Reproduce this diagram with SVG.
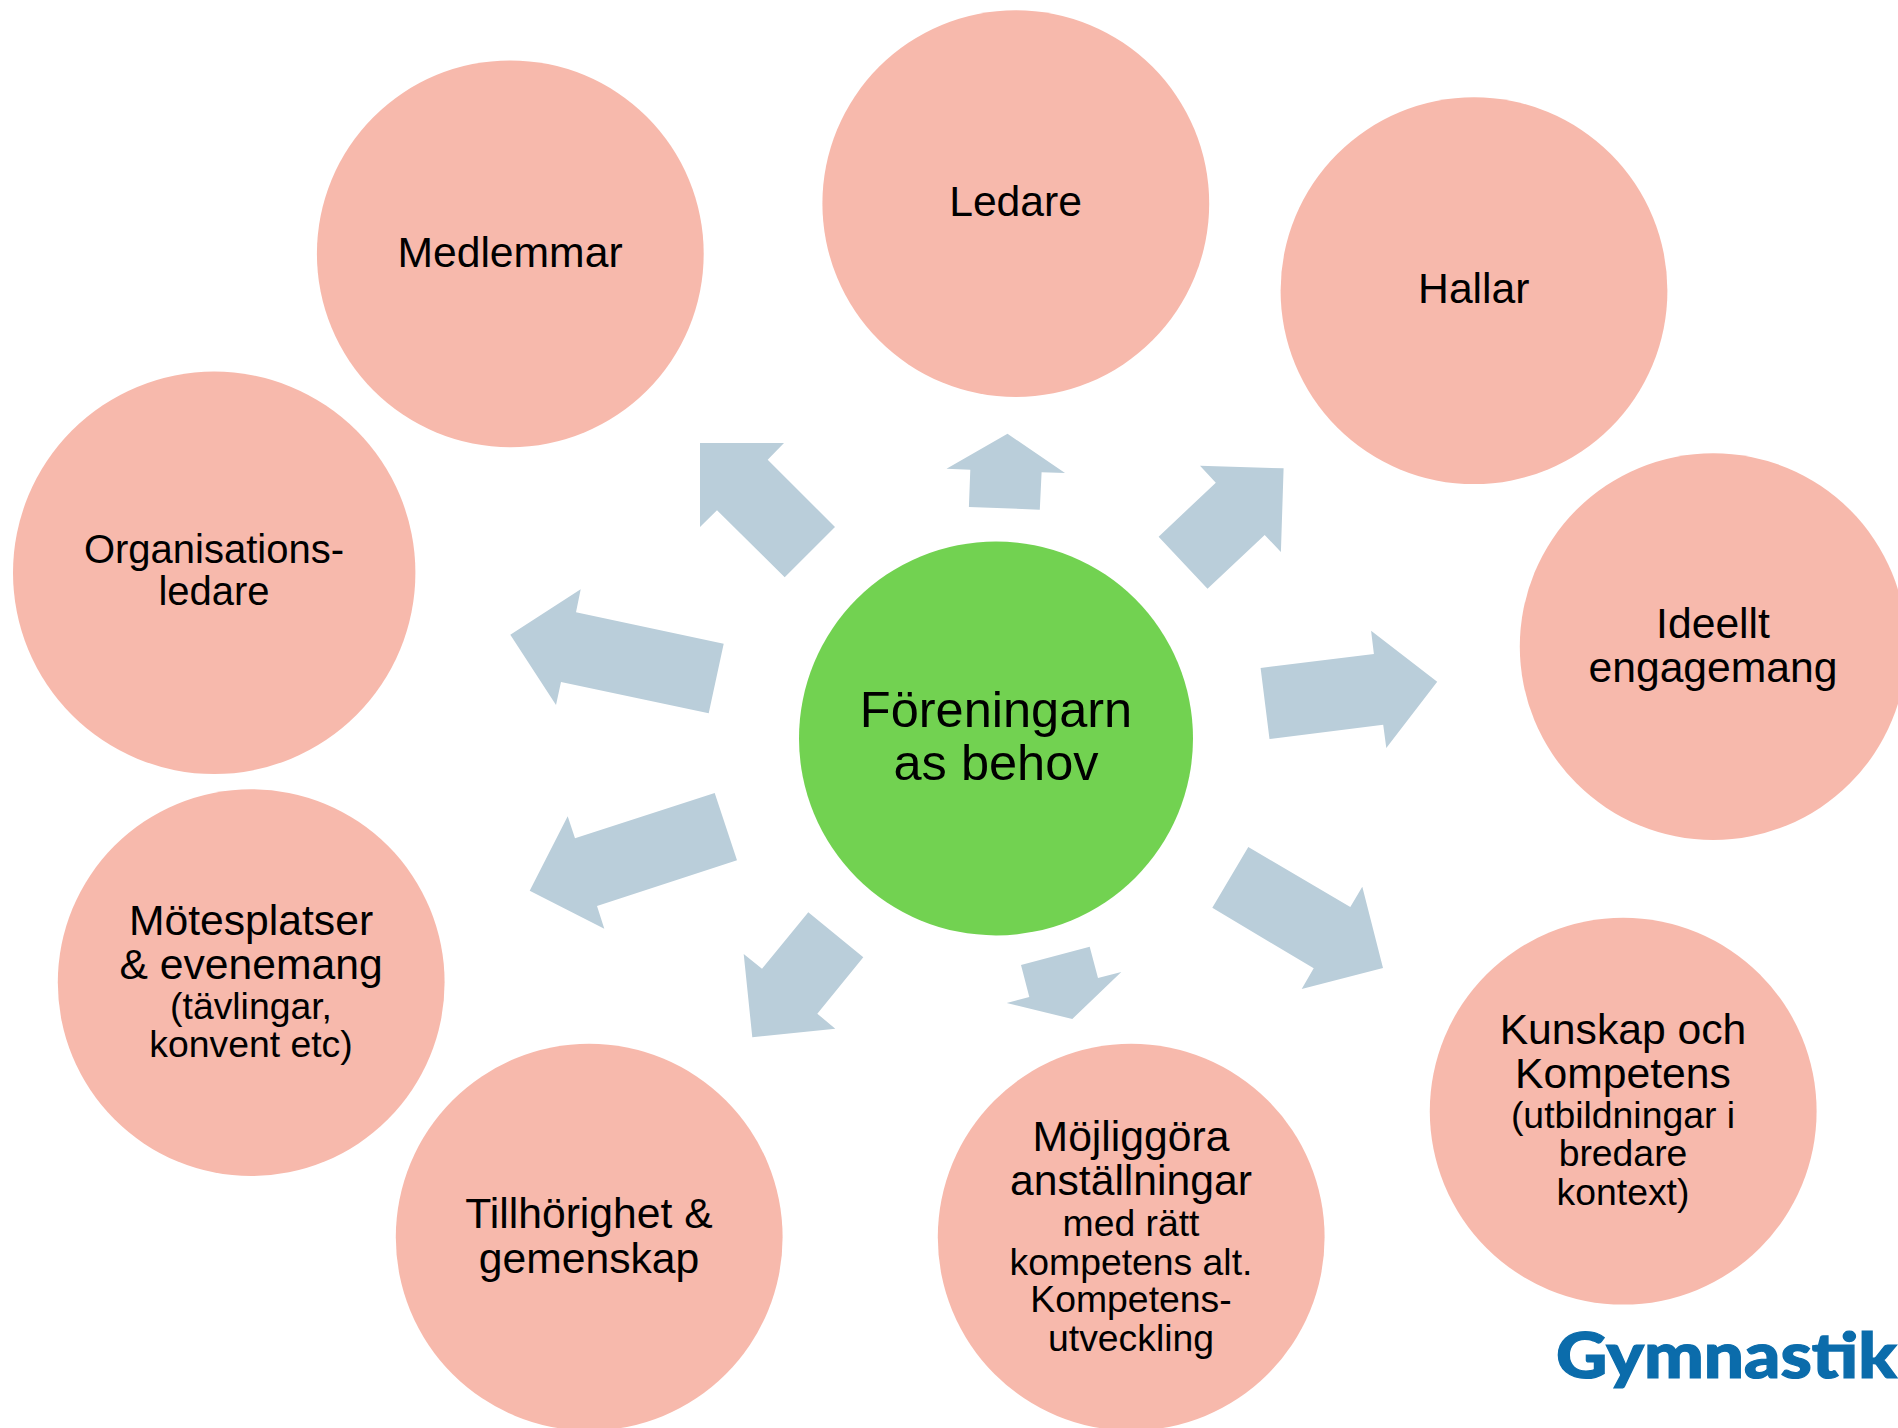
<svg xmlns="http://www.w3.org/2000/svg" width="1898" height="1428" viewBox="0 0 1898 1428">
<style>
.n{fill:#F7B9AC}
.c{fill:#72D251}
.a{fill:#BACEDA}
text{font-family:"Liberation Sans",Arial,sans-serif;fill:#000;text-anchor:middle}
.l{font-size:42.67px}
.o{font-size:40px}
.s{font-size:37.33px}
.m{font-size:50.5px}
.g{font-family:Lato,"Open Sans",sans-serif;font-weight:900;font-size:62px;fill:#0B6CAB;stroke:#0B6CAB;stroke-width:1.2px;text-anchor:start}
</style>
<rect width="1898" height="1428" fill="#fff"/>
<g id="connectors">
<polygon class="a" points="700,443 784,443 767.7,459.7 835,527 784.7,577.3 717,510.3 700,527"/>
<polygon class="a" points="510.3,634.7 580.7,589.3 576,612.3 723.7,643.7 708.7,713.3 561,682 556,705"/>
<polygon class="a" points="1007.5,433.7 1065,473 1041.6,472.3 1039.8,509.7 968.9,507 970.3,469.7 946.5,468.7"/>
<polygon class="a" points="1200,465.7 1283.6,468.3 1280.9,552 1264.7,535 1207.5,588.7 1158.6,536.7 1215.8,482.7"/>
<polygon class="a" points="1260.6,668 1373.9,654 1371.1,630.7 1437.2,681.7 1386.3,748 1383.2,724.7 1269.5,739"/>
<polygon class="a" points="714.7,793 737,860.3 597,906 604.3,928.7 529.7,890.7 567.7,816.3 575,838.3"/>
<polygon class="a" points="808.3,912.3 863.3,957.3 817.3,1013.7 835.3,1028.7 752.3,1037.3 743.7,954 762,968.7"/>
<polygon class="a" points="1089.7,946.7 1098,978 1121.3,972 1072.3,1019 1006.7,1003 1029.3,997 1021,965"/>
<polygon class="a" points="1248.3,847 1350.3,907 1362.3,886.7 1383,968 1301.7,989 1313.7,968.3 1212.3,907.7"/>
</g>
<g id="center"><circle class="c" cx="996" cy="738.4" r="197"/><text class="m" x="996" y="727">Föreningarn</text><text class="m" x="996" y="780">as behov</text></g>
<g id="medlemmar"><circle class="n" cx="510.3" cy="253.8" r="193.4"/><text class="l" x="510" y="267">Medlemmar</text></g>
<g id="ledare"><circle class="n" cx="1015.8" cy="203.6" r="193.4"/><text class="l" x="1015.6" y="216">Ledare</text></g>
<g id="hallar"><circle class="n" cx="1474" cy="290.7" r="193.4"/><text class="l" x="1473.8" y="303">Hallar</text></g>
<g id="ideellt"><circle class="n" cx="1713.2" cy="646.6" r="193.4"/><text class="l" x="1713" y="638">Ideellt</text><text class="l" x="1713" y="682">engagemang</text></g>
<g id="kunskap"><circle class="n" cx="1623.2" cy="1111.2" r="193.4"/><text class="l" x="1623" y="1044">Kunskap och</text><text class="l" x="1623" y="1088">Kompetens</text><text class="s" x="1623" y="1128">(utbildningar i</text><text class="s" x="1623" y="1166">bredare</text><text class="s" x="1623" y="1205">kontext)</text></g>
<g id="mojliggora"><circle class="n" cx="1131.2" cy="1237.2" r="193.4"/><text class="l" x="1131" y="1151">Möjliggöra</text><text class="l" x="1131" y="1195">anställningar</text><text class="s" x="1131" y="1236">med rätt</text><text class="s" x="1131" y="1275">kompetens alt.</text><text class="s" x="1131" y="1312">Kompetens-</text><text class="s" x="1131" y="1351">utveckling</text></g>
<g id="tillhorighet"><circle class="n" cx="589.2" cy="1237.2" r="193.4"/><text class="l" x="589" y="1228">Tillhörighet &amp;</text><text class="l" x="589" y="1273">gemenskap</text></g>
<g id="motesplatser"><circle class="n" cx="251.2" cy="982.6" r="193.4"/><text class="l" x="251" y="935">Mötesplatser</text><text class="l" x="251" y="979">&amp; evenemang</text><text class="s" x="251" y="1019">(tävlingar,</text><text class="s" x="251" y="1057">konvent etc)</text></g>
<g id="organisation"><circle class="n" cx="214.2" cy="572.8" r="201.2"/><text class="o" x="214" y="563">Organisations-</text><text class="o" x="214" y="605">ledare</text></g>
<g id="logo"><text class="g" x="1556" y="1378" textLength="341" lengthAdjust="spacingAndGlyphs">Gymnastik</text></g>
</svg>
